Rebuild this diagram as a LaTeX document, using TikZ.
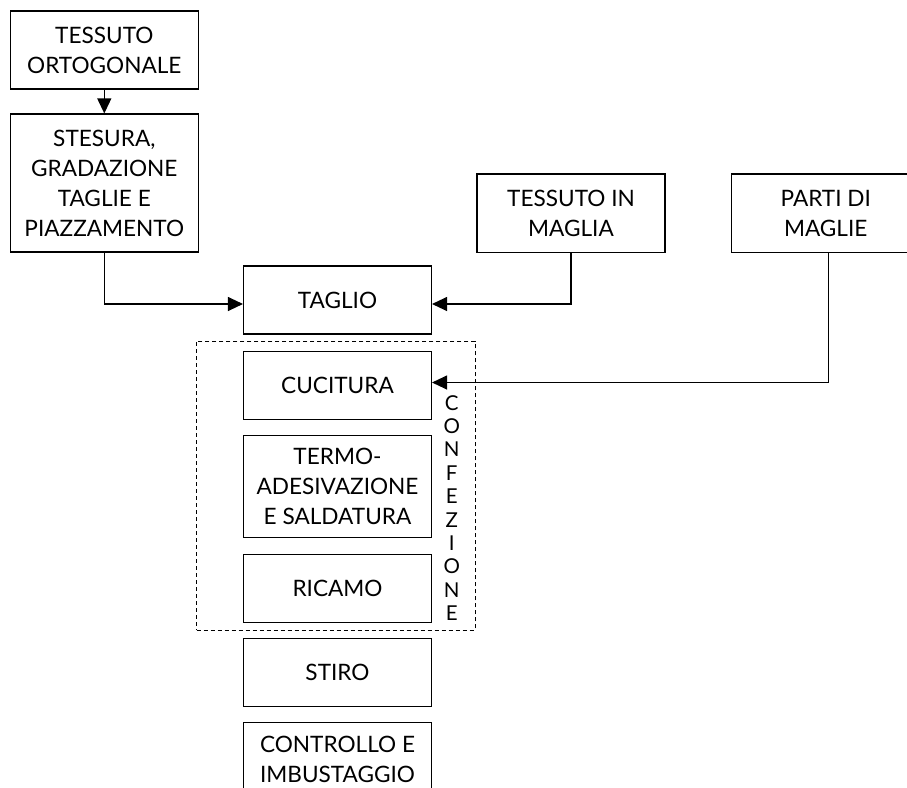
\documentclass[tikz,border=0pt]{standalone}
\usepackage{fontspec}
\setmainfont{Lato}
\usetikzlibrary{arrows.meta}
\begin{document}
\begin{tikzpicture}[x=1pt,y=-1pt,
  pbox/.style={draw, line width=1.1pt, minimum width=188pt, align=center,
    font=\fontsize{22.6}{30}\selectfont, inner sep=0pt},
  conn/.style={line width=1.1pt, -{Triangle[length=15pt,width=14pt]}}]
\clip (0,0) rectangle (907,787);
\node[pbox, minimum height=78pt] (tort) at (104.3,50) {TESSUTO\\ORTOGONALE};
\node[pbox, minimum height=138pt] (stes) at (104.3,183) {STESURA,\\GRADAZIONE\\TAGLIE E\\PIAZZAMENTO};
\node[pbox, minimum height=68pt] (taglio) at (337.5,300) {TAGLIO};
\node[pbox, minimum height=78.7pt] (maglia) at (571,213.3) {TESSUTO IN\\MAGLIA};
\node[pbox, minimum height=78.7pt] (parti) at (825.7,213.3) {PARTI DI\\MAGLIE};
\node[pbox, minimum height=68.3pt] (cuc) at (337.5,385.2) {CUCITURA};
\node[pbox, minimum height=102pt] (termo) at (337.5,486.7) {TERMO-\\ADESIVAZIONE\\E SALDATURA};
\node[pbox, minimum height=68.3pt] (ricamo) at (337.5,588.2) {RICAMO};
\node[pbox, minimum height=68.4pt] (stiro) at (337.5,672.5) {STIRO};
\node[pbox, minimum height=72.6pt] (contr) at (337.5,759) {CONTROLLO E\\IMBUSTAGGIO};
\node[draw, line width=0.9pt, dash pattern=on 4pt off 3pt, minimum width=278.3pt,
  minimum height=289pt, inner sep=0pt] (conf) at (335.85,485.5) {};
\node[align=center, font=\fontsize{20.5}{23.4}\selectfont, inner sep=0pt] (conflabel)
  at (451.7,508) {C\\O\\N\\F\\E\\Z\\I\\O\\N\\E};
\draw[conn] (tort) -- (stes);
\draw[conn] (stes.south) |- ([yshift=-4pt]taglio.west);
\draw[conn] (maglia.south) |- ([yshift=-4pt]taglio.east);
\draw[conn] ([xshift=2.6pt]parti.south) |- ([yshift=2.7pt]cuc.east);
\end{tikzpicture}
\end{document}
